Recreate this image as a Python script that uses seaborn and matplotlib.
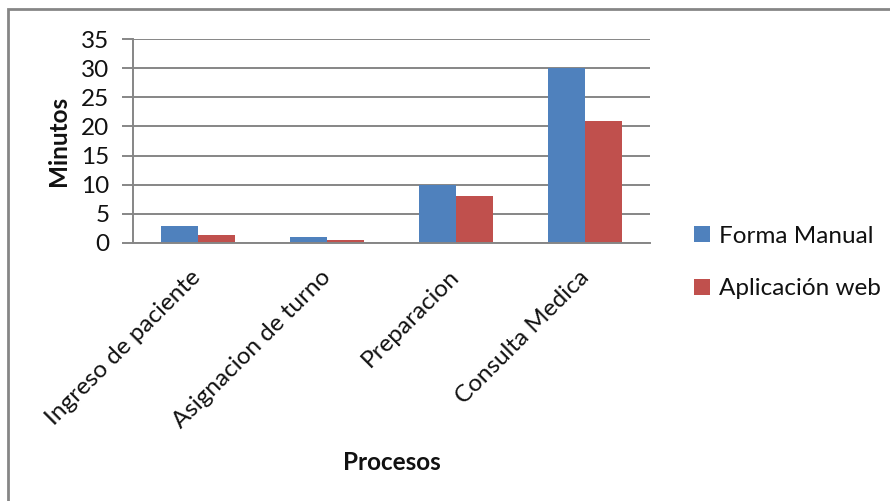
"""Recreate the grouped bar chart of process times (manual vs web application)."""

import matplotlib.pyplot as plt
import pandas as pd
import seaborn as sns
from matplotlib.patches import Patch, Rectangle

categories = ["Ingreso de paciente", "Asignacion de turno", "Preparacion", "Consulta Medica"]
series_names = ["Forma Manual", "Aplicación web"]
manual_values = [3, 1, 10, 30]
web_values = [1.3, 0.5, 8, 21]
y_ticks = [0, 5, 10, 15, 20, 25, 30, 35]

colors = {"Forma Manual": "#4F81BD", "Aplicación web": "#C0504D"}
grid_color = "#868686"

data = pd.DataFrame(
    {
        "proceso": categories * 2,
        "serie": [series_names[0]] * len(categories) + [series_names[1]] * len(categories),
        "minutos": manual_values + web_values,
    }
)

sns.set_theme(style="white")
plt.rcParams["font.family"] = ["Lato", "DejaVu Sans"]

fig = plt.figure(figsize=(8.9, 5.01), dpi=100)
ax = fig.add_axes([133 / 890, 1 - 243 / 501, 517 / 890, 204 / 501])

sns.barplot(
    data=data,
    x="proceso",
    y="minutos",
    hue="serie",
    hue_order=series_names,
    order=categories,
    palette=colors,
    width=0.573,
    saturation=1,
    edgecolor="none",
    legend=False,
    ax=ax,
)

ax.set_xlim(-0.5, len(categories) - 0.5)
ax.set_ylim(0, 35)
ax.set_yticks(y_ticks)
ax.yaxis.grid(True, color=grid_color, linewidth=1.4)
ax.set_axisbelow(True)
for side in ["top", "right"]:
    ax.spines[side].set_visible(False)
for side in ["left", "bottom"]:
    ax.spines[side].set_color(grid_color)
    ax.spines[side].set_linewidth(1.4)

ax.tick_params(axis="y", length=8, width=1.4, color=grid_color, labelsize=17.5, pad=9,
               left=True, labelcolor="#111111")
ax.tick_params(axis="x", length=0, labelsize=17.5, pad=22, labelcolor="#111111")
ax.set_xticks(range(len(categories)))
ax.set_xticklabels(categories, rotation=45, ha="right", va="center", rotation_mode="anchor")

ax.set_xlabel("")
ax.set_ylabel("")
fig.text(58 / 890, 1 - 141 / 501, "Minutos", rotation=90, ha="center", va="center",
         fontsize=17.5, fontweight="bold", color="#111111")
fig.text(392 / 890, 1 - 462 / 501, "Procesos", ha="center", va="center",
         fontsize=17.5, fontweight="bold", color="#111111")

handles = [Patch(facecolor=colors[name], edgecolor="none", label=name) for name in series_names]
fig.legend(
    handles=handles,
    loc="upper left",
    bbox_to_anchor=(672 / 890, 1 - 204 / 501),
    frameon=False,
    fontsize=17.5,
    handlelength=0.65,
    handleheight=0.65,
    handletextpad=0.4,
    labelspacing=1.3,
    labelcolor="#111111",
)

fig.patches.append(
    Rectangle((8 / 890, -0.1), 1.2, 1 - 9 / 501 + 0.1, transform=fig.transFigure,
              fill=False, edgecolor=grid_color, linewidth=2, clip_on=False)
)

fig.savefig("out.png", dpi=100)
